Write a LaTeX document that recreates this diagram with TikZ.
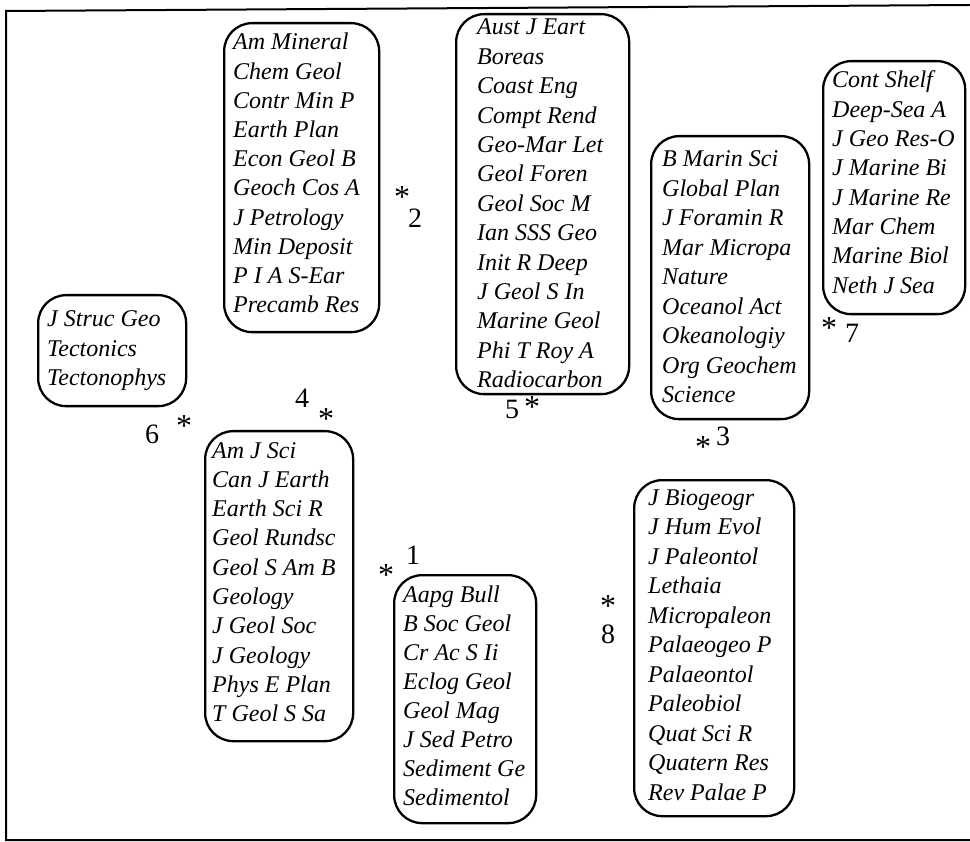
\documentclass[tikz,border=0pt]{standalone}
\usepackage{fontspec}
\setmainfont{Liberation Serif}
\begin{document}
\begin{tikzpicture}[x=1pt,y=-1pt,
  cluster/.style={draw=black, line width=2.3pt, rounded corners=28pt, inner sep=0pt, anchor=north west},
  item/.style={anchor=base west, inner sep=0pt, font=\itshape\fontsize{24}{29}\selectfont},
  num/.style={anchor=base, inner sep=0pt, font=\fontsize{28}{30}\selectfont},
  starmark/.style={anchor=base, inner sep=0pt, font=\fontsize{32}{34}\selectfont},
  frame/.style={line width=2pt}]
\useasboundingbox (0,0) rectangle (970,842);
% outer frame (right side cut off)
\coordinate (f1) at (970,5);
\coordinate (f2) at (6,11);
\coordinate (f3) at (6,840);
\coordinate (f4) at (970,840);
\draw[frame] (f1) -- (f2) -- (f3) -- (f4);

% cluster boxes
\node[cluster, minimum width=155pt, minimum height=309pt] (c2) at (223,22) {};
\node[cluster, minimum width=173pt, minimum height=380pt] (c5) at (455,13) {};
\node[cluster, minimum width=158pt, minimum height=283pt] (c3) at (650,135) {};
\node[cluster, minimum width=142pt, minimum height=253pt] (c7) at (822,60) {};
\node[cluster, minimum width=148pt, minimum height=111pt] (c6) at (37,294) {};
\node[cluster, minimum width=148pt, minimum height=310pt] (c4) at (204,430) {};
\node[cluster, minimum width=142pt, minimum height=248pt] (c1) at (393,574) {};
\node[cluster, minimum width=160pt, minimum height=336pt] (c8) at (633,479) {};

% cluster 2
\foreach \t [count=\i from 0] in {Am Mineral,Chem Geol,Contr Min P,Earth Plan,Econ Geol B,Geoch Cos A,J Petrology,Min Deposit,P I A S-Ear,Precamb Res}
  \node[item] (c2-\i) at (233, 50+29.2*\i) {\t};
% cluster 5
\foreach \t [count=\i from 0] in {Aust J Eart,Boreas,Coast Eng,Compt Rend,Geo-Mar Let,Geol Foren,Geol Soc M,Ian SSS Geo,Init R Deep,J Geol S In,Marine Geol,Phi T Roy A,Radiocarbon}
  \node[item] (c5-\i) at (477, 35+29.4*\i) {\t};
% cluster 3
\foreach \t [count=\i from 0] in {B Marin Sci,Global Plan,J Foramin R,Mar Micropa,Nature,Oceanol Act,Okeanologiy,Org Geochem,Science}
  \node[item] (c3-\i) at (662, 167+29.5*\i) {\t};
% cluster 7
\foreach \t [count=\i from 0] in {Cont Shelf,Deep-Sea A,J Geo Res-O,J Marine Bi,J Marine Re,Mar Chem,Marine Biol,Neth J Sea}
  \node[item] (c7-\i) at (832, 88+29.3*\i) {\t};
% cluster 6
\foreach \t [count=\i from 0] in {J Struc Geo,Tectonics,Tectonophys}
  \node[item] (c6-\i) at (47, 327+29.3*\i) {\t};
% cluster 4
\foreach \t [count=\i from 0] in {Am J Sci,Can J Earth,Earth Sci R,Geol Rundsc,Geol S Am B,Geology,J Geol Soc,J Geology,Phys E Plan,T Geol S Sa}
  \node[item] (c4-\i) at (212, 458+29.3*\i) {\t};
% cluster 1
\foreach \t [count=\i from 0] in {Aapg Bull,B Soc Geol,Cr Ac S Ii,Eclog Geol,Geol Mag,J Sed Petro,Sediment Ge,Sedimentol}
  \node[item] (c1-\i) at (403, 602+29*\i) {\t};
% cluster 8
\foreach \t [count=\i from 0] in {J Biogeogr,J Hum Evol,J Paleontol,Lethaia,Micropaleon,Palaeogeo P,Palaeontol,Paleobiol,Quat Sci R,Quatern Res,Rev Palae P}
  \node[item] (c8-\i) at (648, 505+29.5*\i) {\t};

% cluster labels
\node[starmark] (s2) at (402,208) {*};
\node[num] (n2) at (415,228) {2};
\node[starmark] (s5) at (532,418) {*};
\node[num] (n5) at (512,419) {5};
\node[starmark] (s3) at (703,457) {*};
\node[num] (n3) at (723,446) {3};
\node[starmark] (s7) at (829,339) {*};
\node[num] (n7) at (852,343) {7};
\node[starmark] (s6) at (184,437) {*};
\node[num] (n6) at (152,443) {6};
\node[starmark] (s4) at (326,430) {*};
\node[num] (n4) at (302,408) {4};
\node[starmark] (s1) at (386,585) {*};
\node[num] (n1) at (413,564) {1};
\node[starmark] (s8) at (608,616) {*};
\node[num] (n8) at (608,643) {8};
\end{tikzpicture}
\end{document}
